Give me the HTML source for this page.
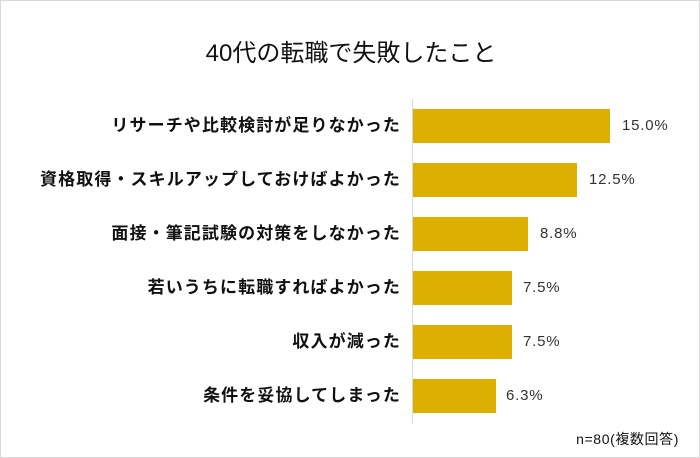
<!DOCTYPE html>
<html><head><meta charset="utf-8"><style>
body{margin:0;background:#fff;}
#c{position:relative;width:698px;height:456px;border:1px solid #d9d9d9;overflow:hidden;font-family:"Liberation Sans","Noto Sans CJK JP",sans-serif;}
.t{position:absolute;left:0;width:700px;top:32px;text-align:center;font-size:24px;color:#111;}
.ax{position:absolute;left:411px;top:98px;width:1px;height:325px;background:#d9d9d9;}
.b{position:absolute;left:412px;height:34px;background:#dcaf00;}
.l{position:absolute;right:298px;font-size:17px;letter-spacing:1.1px;font-weight:bold;color:#111;line-height:34px;white-space:nowrap;}
.v{position:absolute;font-size:15px;letter-spacing:0.8px;color:#333;line-height:34px;}
.n{position:absolute;right:20px;top:428px;font-size:14px;letter-spacing:0.6px;color:#111;}
</style></head><body><div id="c">
<div class="t">40代の転職で失敗したこと</div>
<div class="ax"></div>
<div class="l" style="top:108px">リサーチや比較検討が足りなかった</div><div class="b" style="top:108px;width:197px"></div><div class="v" style="top:108px;left:621px">15.0%</div>
<div class="l" style="top:162px">資格取得・スキルアップしておけばよかった</div><div class="b" style="top:162px;width:164px"></div><div class="v" style="top:162px;left:588px">12.5%</div>
<div class="l" style="top:216px">面接・筆記試験の対策をしなかった</div><div class="b" style="top:216px;width:115px"></div><div class="v" style="top:216px;left:539px">8.8%</div>
<div class="l" style="top:270px">若いうちに転職すればよかった</div><div class="b" style="top:270px;width:99px"></div><div class="v" style="top:270px;left:522px">7.5%</div>
<div class="l" style="top:324px">収入が減った</div><div class="b" style="top:324px;width:99px"></div><div class="v" style="top:324px;left:522px">7.5%</div>
<div class="l" style="top:378px">条件を妥協してしまった</div><div class="b" style="top:378px;width:83px"></div><div class="v" style="top:378px;left:505px">6.3%</div>
<div class="n">n=80(複数回答)</div>
</div></body></html>
